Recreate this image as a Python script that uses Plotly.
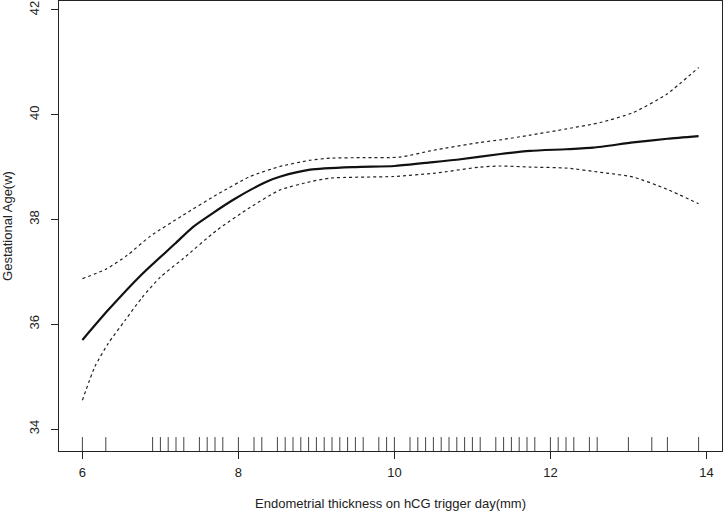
import plotly.graph_objects as go

# smoothed fit and its confidence band
fit_x = [6.0, 6.33, 6.76, 7.19, 7.42, 7.94, 8.36, 8.54, 8.92, 9.5, 10.0, 10.4, 10.8, 11.36, 11.74, 12.2, 12.55, 13.06, 13.5, 13.9]
fit_y = [35.70, 36.27, 36.95, 37.54, 37.86, 38.38, 38.72, 38.82, 38.95, 39.00, 39.02, 39.08, 39.14, 39.25, 39.31, 39.34, 39.37, 39.47, 39.54, 39.59]

upper_x = [6.0, 6.3, 6.57, 6.87, 7.29, 7.72, 8.15, 8.53, 8.92, 9.18, 9.6, 10.07, 10.5, 11.1, 11.36, 11.74, 12.21, 12.64, 13.06, 13.49, 13.9]
upper_y = [36.87, 37.05, 37.31, 37.68, 38.08, 38.47, 38.82, 39.01, 39.13, 39.17, 39.18, 39.19, 39.32, 39.47, 39.52, 39.61, 39.73, 39.85, 40.04, 40.39, 40.90]

lower_x = [6.0, 6.16, 6.33, 6.55, 6.76, 7.0, 7.29, 7.72, 8.15, 8.53, 8.92, 9.18, 9.99, 10.5, 11.1, 11.36, 11.74, 12.21, 12.64, 13.06, 13.49, 13.9]
lower_y = [34.55, 35.19, 35.63, 36.08, 36.50, 36.90, 37.25, 37.79, 38.23, 38.56, 38.72, 38.79, 38.82, 38.88, 39.00, 39.02, 39.00, 38.98, 38.90, 38.81, 38.58, 38.30]

# observed thickness values (rug)
rug_x = [6.0, 6.3, 6.9, 7.0, 7.1, 7.2, 7.3, 7.5, 7.6, 7.7, 7.8, 8.0, 8.2, 8.3, 8.5, 8.6, 8.7, 8.8, 8.9,
         9.0, 9.1, 9.2, 9.3, 9.4, 9.5, 9.6, 9.8, 9.9, 10.0, 10.2, 10.3, 10.4, 10.5, 10.6, 10.7, 10.8,
         10.9, 11.0, 11.1, 11.3, 11.4, 11.5, 11.6, 11.7, 11.8, 12.0, 12.1, 12.2, 12.3, 12.5, 12.6,
         13.0, 13.3, 13.5, 13.9]

x_ticks = [6, 8, 10, 12, 14]
y_ticks = [34, 36, 38, 40, 42]

font = dict(family="Liberation Sans, Arial", size=13, color="#222222")

fig = go.Figure()
fig.add_trace(go.Scatter(x=upper_x, y=upper_y, mode="lines",
                         line=dict(color="#222222", width=1.2, dash="dot", shape="spline", smoothing=0.6)))
fig.add_trace(go.Scatter(x=lower_x, y=lower_y, mode="lines",
                         line=dict(color="#222222", width=1.2, dash="dot", shape="spline", smoothing=0.6)))
fig.add_trace(go.Scatter(x=fit_x, y=fit_y, mode="lines",
                         line=dict(color="#111111", width=2.2, shape="spline", smoothing=0.6)))

# rug ticks along the bottom
for v in rug_x:
    fig.add_shape(type="line", xref="x", yref="paper", x0=v, x1=v, y0=0, y1=0.031,
                  line=dict(color="#444444", width=1))

axis_common = dict(showline=True, linecolor="#222222", linewidth=1, mirror=True,
                   ticks="outside", ticklen=7, tickcolor="#222222", tickwidth=1,
                   showgrid=False, zeroline=False, automargin=False, tickfont=font)

fig.update_layout(
    width=724, height=512,
    margin=dict(l=59, r=2, t=1, b=61),
    plot_bgcolor="white", paper_bgcolor="white",
    showlegend=False,
    xaxis=dict(range=[5.70, 14.20], tickvals=x_ticks, ticklabelstandoff=2, **axis_common,
               title=dict(text="Endometrial thickness on hCG trigger day(mm)", standoff=20, font=font)),
    yaxis=dict(range=[33.58, 42.17], tickvals=y_ticks, tickangle=-90, ticklabelstandoff=7, **axis_common,
               title=dict(text="Gestational Age(w)", standoff=12, font=font)),
)

# drop the page's default body margin so the figure sits at the window corner
fig.write_html("out.html", config={"displayModeBar": False},
               post_script="document.body.style.margin='0';")
